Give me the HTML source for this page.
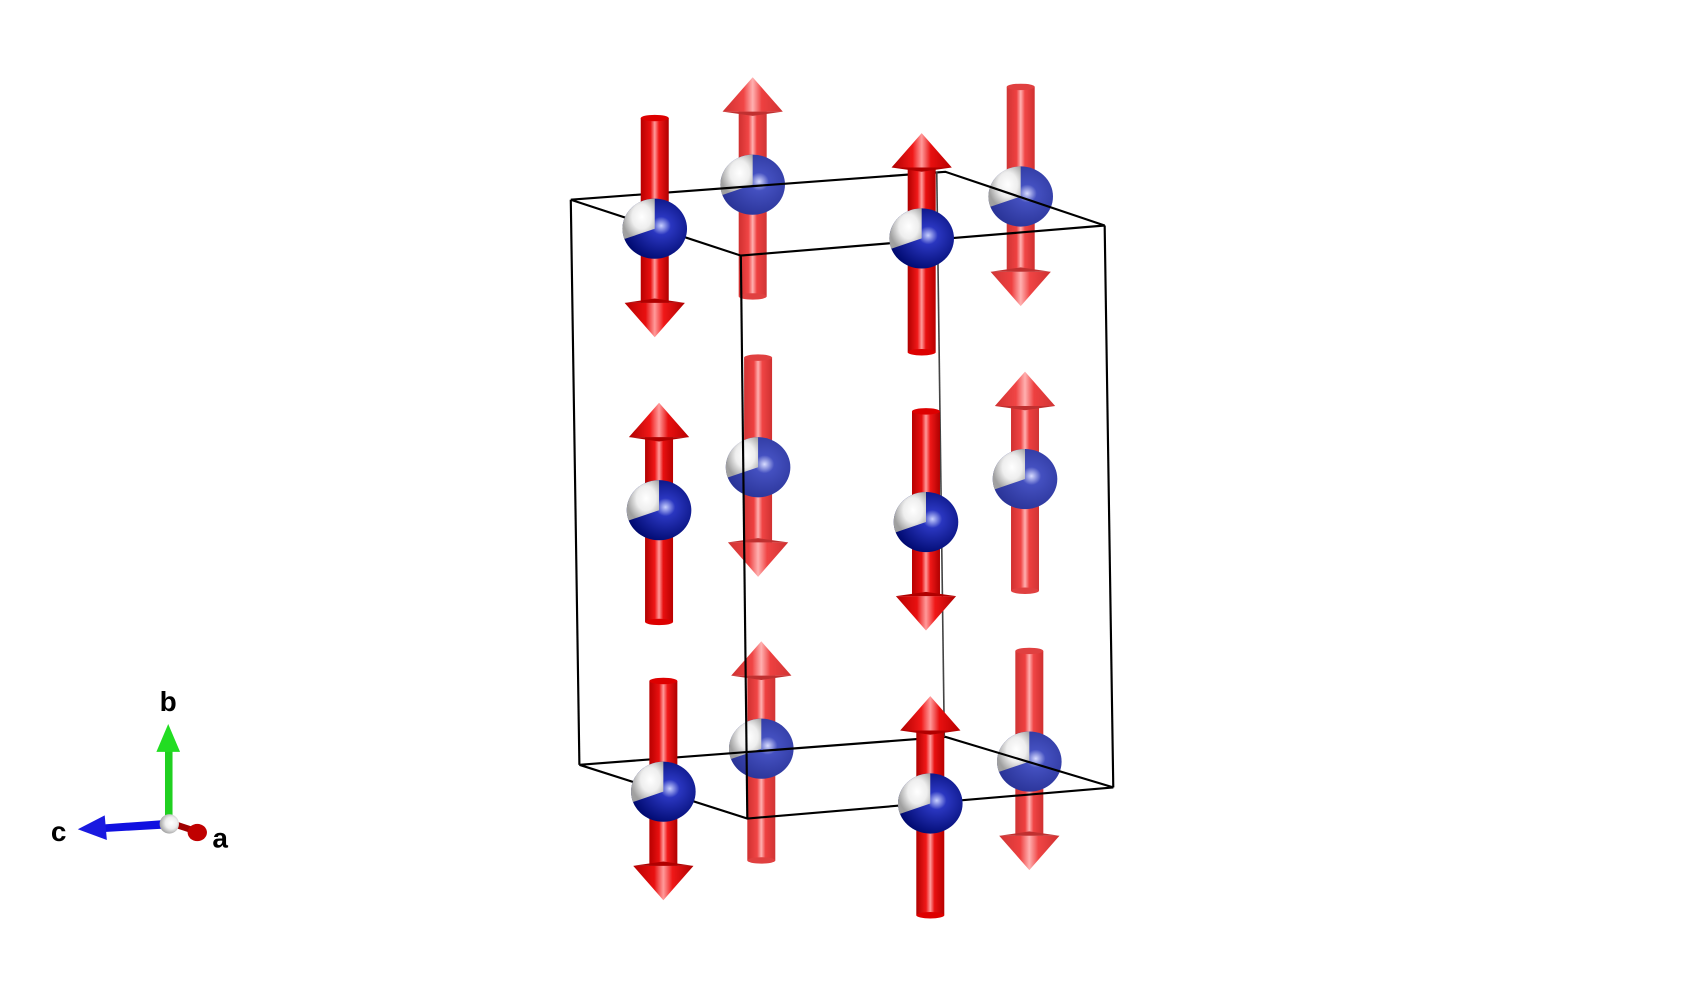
<!DOCTYPE html>
<html><head><meta charset="utf-8"><style>
html,body{margin:0;padding:0;background:#fff;}
svg{display:block;}
text{font-family:"Liberation Sans",sans-serif;font-weight:bold;font-size:26px;fill:#000;}
</style></head><body>
<svg width="1684" height="990" viewBox="0 0 1552 912" preserveAspectRatio="none" xmlns="http://www.w3.org/2000/svg">
<defs>
<linearGradient id="gF" x1="0" x2="1" y1="0" y2="0">
<stop offset="0" stop-color="#b00000"/><stop offset="0.35" stop-color="#f01818"/><stop offset="0.5" stop-color="#ff9a9a"/><stop offset="0.65" stop-color="#e81010"/><stop offset="1" stop-color="#b80000"/></linearGradient>
<linearGradient id="gB" x1="0" x2="1" y1="0" y2="0">
<stop offset="0" stop-color="#d03030"/><stop offset="0.35" stop-color="#f04545"/><stop offset="0.5" stop-color="#ffb0b0"/><stop offset="0.65" stop-color="#ee4040"/><stop offset="1" stop-color="#d03535"/></linearGradient>
<radialGradient id="sbF" cx="0.6" cy="0.45" r="0.6"><stop offset="0" stop-color="#c8d0ff"/><stop offset="0.25" stop-color="#2a36c0"/><stop offset="1" stop-color="#000a70"/></radialGradient>
<radialGradient id="sbB" cx="0.6" cy="0.45" r="0.6"><stop offset="0" stop-color="#d8dcff"/><stop offset="0.25" stop-color="#4450c0"/><stop offset="1" stop-color="#2a3498"/></radialGradient>
<radialGradient id="sw" cx="0.6" cy="0.45" r="0.6"><stop offset="0" stop-color="#ffffff"/><stop offset="0.5" stop-color="#eeeeee"/><stop offset="1" stop-color="#a0a0a0"/></radialGradient>
<symbol id="aF" overflow="visible"><rect x="-13" y="-70" width="26" height="172" fill="url(#gF)"/><ellipse cx="0" cy="102" rx="13" ry="3" fill="#d00"/><polygon points="-28,-70 28,-70 0,-102" fill="url(#gF)"/><polygon points="-28,-70 28,-70 0,-66" fill="#b00000"/></symbol>
<symbol id="aB" overflow="visible"><rect x="-13" y="-70" width="26" height="172" fill="url(#gB)"/><ellipse cx="0" cy="102" rx="13" ry="3" fill="#e04040"/><polygon points="-28,-70 28,-70 0,-102" fill="url(#gB)"/><polygon points="-28,-70 28,-70 0,-66" fill="#c03030"/></symbol>
<symbol id="sF" overflow="visible"><ellipse cx="0" cy="0" rx="30" ry="28" fill="url(#sbF)"/><path d="M0,0 L0,-28 A30,28 0 0 0 -28.2,9.6 Z" fill="url(#sw)"/></symbol>
<symbol id="sB" overflow="visible"><ellipse cx="0" cy="0" rx="30" ry="28" fill="url(#sbB)"/><path d="M0,0 L0,-28 A30,28 0 0 0 -28.2,9.6 Z" fill="url(#sw)"/></symbol>
</defs>
<g transform="matrix(0.992,0,0,0.9897,-1.7,-0.1)">
<use href="#aB" transform="translate(701,174)"/>
<use href="#sB" x="701" y="172"/>
<use href="#aB" transform="translate(950,183) rotate(180)"/>
<use href="#sB" x="950" y="183"/>
<use href="#aB" transform="translate(706,435) rotate(180)"/>
<use href="#sB" x="706" y="435"/>
<use href="#aB" transform="translate(954,448)"/>
<use href="#sB" x="954" y="446"/>
<use href="#aB" transform="translate(709,699)"/>
<use href="#sB" x="709" y="697"/>
<use href="#aB" transform="translate(958,708) rotate(180)"/>
<use href="#sB" x="958" y="709"/>

<g stroke="#000" stroke-width="2" fill="none">
<polyline points="532,186 690,238 1028,210 880,160 532,186"/>
<polyline points="540,712 696,762 1036,733 880,686 540,712"/>
<line x1="532" y1="186" x2="540" y2="712"/>
<line x1="690" y1="238" x2="696" y2="762"/>
<line x1="1028" y1="210" x2="1036" y2="733"/>
<line x1="872" y1="160" x2="879" y2="686" stroke="#444" stroke-width="1.5"/>
</g>

<use href="#aF" transform="translate(610,212) rotate(180)"/>
<use href="#sF" x="610" y="213"/>
<use href="#aF" transform="translate(858,226)"/>
<use href="#sF" x="858" y="222"/>
<use href="#aF" transform="translate(614,477)"/>
<use href="#sF" x="614" y="475"/>
<use href="#aF" transform="translate(862,485) rotate(180)"/>
<use href="#sF" x="862" y="486"/>
<use href="#aF" transform="translate(618,736) rotate(180)"/>
<use href="#sF" x="618" y="737"/>
<use href="#aF" transform="translate(866,750)"/>
<use href="#sF" x="866" y="748"/>

<g transform="translate(3,0)">
<rect x="152" y="696" width="7" height="66" fill="#20d020"/>
<polygon points="144,700 166,700 155,674" fill="#22dd22"/>
<polygon points="157,763 88,768 88,775 157,771" fill="#1010e0"/>
<polygon points="96,759 98,782 71,772" fill="#1a1ae0"/>
<line x1="160" y1="767" x2="178" y2="773" stroke="#a00000" stroke-width="6"/>
<ellipse cx="182" cy="775" rx="9" ry="8" fill="#c00000"/>
<circle cx="156" cy="767" r="9" fill="url(#sw)"/>
<text x="147" y="662">b</text>
<text x="46" y="783">c</text>
<text x="196" y="789">a</text>
</g>
</g>
</svg>
</body></html>
